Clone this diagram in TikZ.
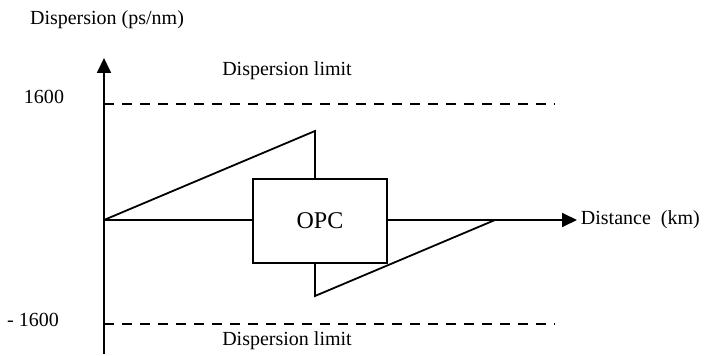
\documentclass[tikz,border=0pt]{standalone}
\usepackage{fontspec}
\setmainfont{Liberation Serif}
\usetikzlibrary{arrows.meta}

\begin{document}
\begin{tikzpicture}[x=0.5pt,y=-0.5pt,line width=0.9pt,
    every node/.style={font=\fontsize{10}{12}\selectfont},
    limit/.style={dash pattern=on 5pt off 4pt},
    axis/.style={-{Triangle[length=7.5pt,width=7pt]}}]
    \useasboundingbox (0,0) rectangle (705,356);

    % Axes
    \coordinate (o) at (104,220);
    \coordinate (ybot) at (104,354);
    \coordinate (ytop) at (104,58);
    \coordinate (xend) at (577,220);
    \draw[axis] (ybot) -- (ytop);
    \draw[axis] (o) -- (xend);
    \node (ylabel) at (107,20) {Dispersion (ps/nm)};
    \node[anchor=west, inner sep=1.5pt] (xlabel) at (xend) {Distance~~(km)};

    % Dispersion limits
    \node (maxval) at (44,97) {1600};
    \node (minval) at (33,320) {- 1600};
    \coordinate (umax) at (104,104);
    \coordinate (umaxend) at (555,104);
    \coordinate (umin) at (104,324);
    \coordinate (uminend) at (555,324);
    \draw[limit] (umax) -- (umaxend);
    \draw[limit] (umin) -- (uminend);
    \node (ulimit) at (287,71) {Dispersion limit};
    \node (llimit) at (287,341) {Dispersion limit};

    % Phase conjugator in the middle of the link
    \node[draw, fill=white, minimum width=67pt, minimum height=42pt,
          font=\fontsize{12}{14}\selectfont] (opc) at (320,221) {OPC};

    % Accumulated dispersion before and after the OPC
    \coordinate (peak) at (315,131);
    \coordinate (trough) at (315,296);
    \coordinate (zero) at (495,220);
    \draw (o) -- (peak) -- (peak |- opc.north);
    \draw (trough |- opc.south) -- (trough) -- (zero);
\end{tikzpicture}
\end{document}
